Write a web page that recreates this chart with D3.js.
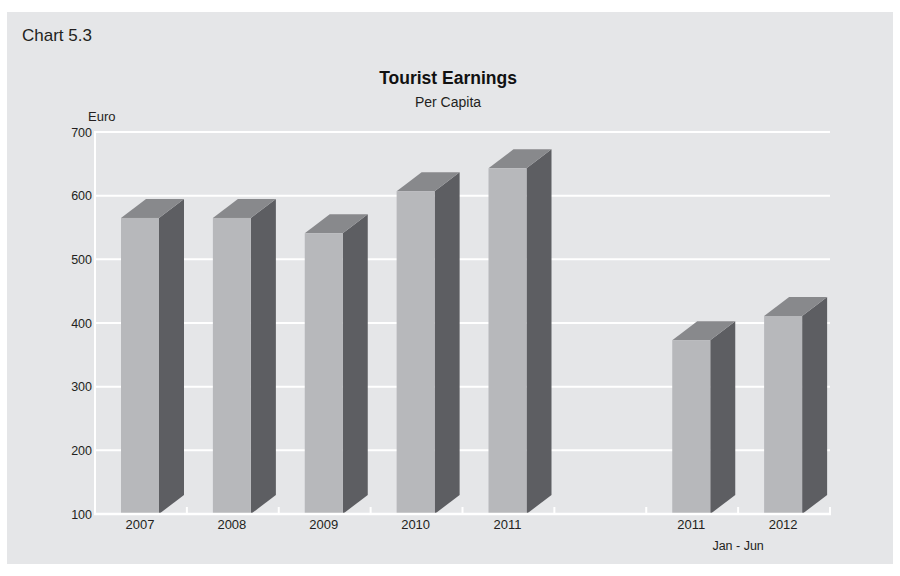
<!DOCTYPE html>
<html>
<head>
<meta charset="utf-8">
<script src="https://cdn.jsdelivr.net/npm/d3@7"></script>
<style>
  html, body { margin: 0; padding: 0; background: #ffffff; }
  svg { display: block; font-family: "Liberation Sans", Arial, Helvetica, sans-serif; }
</style>
</head>
<body>
<svg id="chart" width="900" height="576"></svg>
<script>
// Tourist earnings per capita, in euro
const slots = ["2007", "2008", "2009", "2010", "2011", "gap", "2011H1", "2012H1"];
const slotLabels = ["2007", "2008", "2009", "2010", "2011", "", "2011", "2012"];
const barSlots = ["2007", "2008", "2009", "2010", "2011", "2011H1", "2012H1"];
const barValues = [565, 565, 541, 607, 643, 373, 411];
const yTicks = [100, 200, 300, 400, 500, 600, 700];

const svg = d3.select("#chart");
const W = 900, H = 576;
const margin = { left: 95, right: 70, top: 132, bottom: 62 };
const x0 = margin.left, x1 = W - margin.right;
const y0 = H - margin.bottom, y1 = margin.top;

// panel background
svg.append("rect").attr("x", 7).attr("y", 12).attr("width", 886).attr("height", 552)
  .attr("fill", "#e5e6e8");

svg.append("text").attr("x", 22).attr("y", 41).attr("font-size", 17).attr("fill", "#231f20")
  .text("Chart 5.3");
svg.append("text").attr("x", 448).attr("y", 84).attr("text-anchor", "middle")
  .attr("font-size", 17.5).attr("font-weight", "bold").attr("fill", "#111")
  .text("Tourist Earnings");
svg.append("text").attr("x", 448).attr("y", 107).attr("text-anchor", "middle")
  .attr("font-size", 14).attr("fill", "#231f20").text("Per Capita");

const x = d3.scaleBand().domain(slots).range([x0, x1]).paddingInner(0).paddingOuter(0);
const y = d3.scaleLinear().domain([100, 700]).range([y0, y1]);

// horizontal gridlines
svg.append("g").selectAll("line").data(yTicks.filter(d => d > 100)).join("line")
  .attr("x1", x0).attr("x2", x1)
  .attr("y1", d => y(d)).attr("y2", d => y(d))
  .attr("stroke", "#ffffff").attr("stroke-width", 2);

// y axis line and labels
svg.append("line").attr("x1", x0).attr("x2", x0).attr("y1", y(700) - 1).attr("y2", y0 + 1)
  .attr("stroke", "#ffffff").attr("stroke-width", 2);
const yAxis = d3.axisLeft(y).tickValues(yTicks).tickSize(0).tickPadding(2);
const gy = svg.append("g").attr("transform", `translate(${x0 - 1},0)`).call(yAxis);
gy.select(".domain").remove();
gy.selectAll("text").attr("font-size", 12.5).attr("fill", "#231f20")
  .attr("font-family", "Liberation Sans, Arial, sans-serif");
svg.append("text").attr("x", 88).attr("y", 121).attr("font-size", 13).attr("fill", "#231f20")
  .text("Euro");

// 3D bars
const bw = 38, off = 26, dx = 25, dy = -19;
const bars = svg.append("g").selectAll("g").data(barSlots.map((s, i) => ({ s, v: barValues[i] }))).join("g");
bars.each(function (d) {
  const g = d3.select(this);
  const l = x(d.s) + off, r = l + bw, t = y(d.v), b = y0;
  g.append("path")
    .attr("d", `M${r},${b} L${r},${t} L${r + dx},${t + dy} L${r + dx},${b + dy} Z`)
    .attr("fill", "#5d5e62");
  g.append("path")
    .attr("d", `M${l},${t} L${l + dx},${t + dy} L${r + dx},${t + dy} L${r},${t} Z`)
    .attr("fill", "#88898c");
  g.append("rect").attr("x", l).attr("y", t).attr("width", bw).attr("height", b - t)
    .attr("fill", "#b7b8bb");
});

// x axis with upward ticks at band edges
svg.append("line").attr("x1", x0 - 1).attr("x2", x1 + 1).attr("y1", y0).attr("y2", y0)
  .attr("stroke", "#ffffff").attr("stroke-width", 2.5);
const edges = slots.map(s => x(s) + x.bandwidth());
svg.append("g").selectAll("line").data(edges).join("line")
  .attr("x1", d => d).attr("x2", d => d).attr("y1", y0).attr("y2", y0 - 7)
  .attr("stroke", "#ffffff").attr("stroke-width", 2);

svg.append("g").selectAll("text").data(slots).join("text")
  .attr("x", d => x(d) + off + bw / 2).attr("y", y0 + 15)
  .attr("text-anchor", "middle").attr("font-size", 13).attr("fill", "#231f20")
  .text((d, i) => slotLabels[i]);
svg.append("text").attr("x", x("2011H1") + x.bandwidth()).attr("y", y0 + 36)
  .attr("text-anchor", "middle").attr("font-size", 12.5).attr("fill", "#231f20")
  .text("Jan - Jun");
</script>
</body>
</html>
